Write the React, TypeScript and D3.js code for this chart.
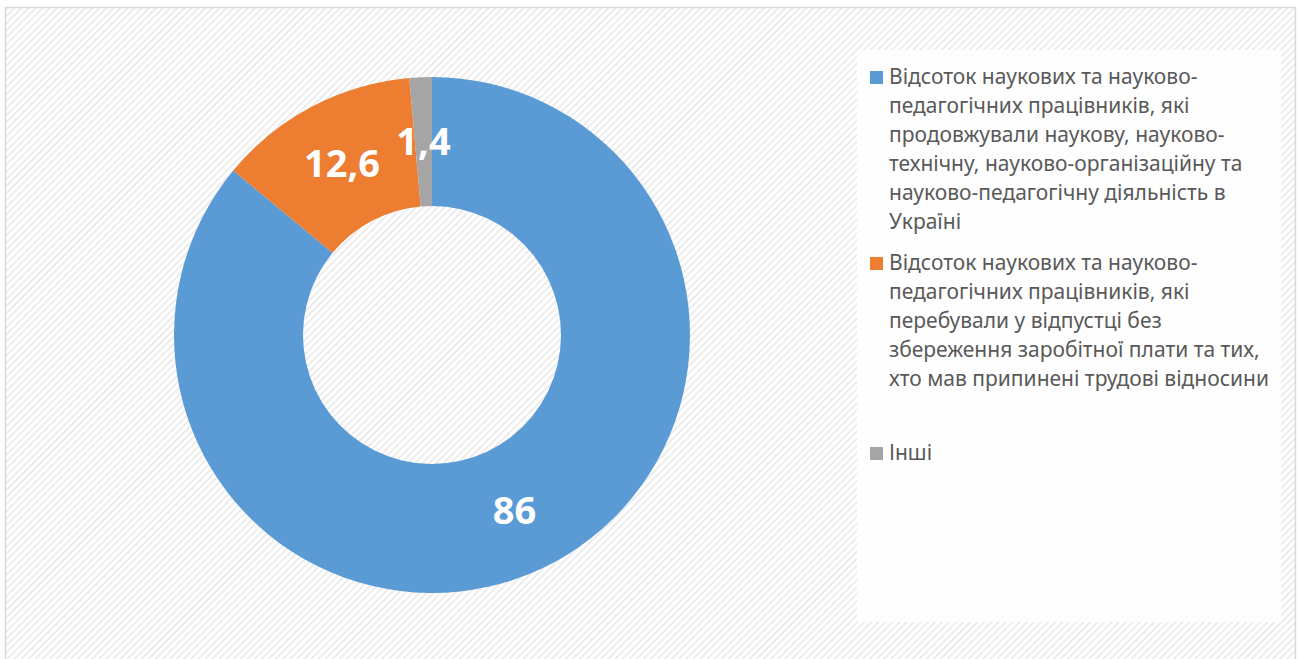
import { useEffect, useRef } from 'react';
import * as d3 from 'd3';

const categories = [
  'Відсоток наукових та науково-педагогічних працівників, які продовжували наукову, науково-технічну, науково-організаційну та науково-педагогічну діяльність в Україні',
  'Відсоток наукових та науково-педагогічних працівників, які перебували у відпустці без збереження заробітної плати та тих, хто мав припинені трудові відносини',
  'Інші',
];
const values = [86, 12.6, 1.4];
const valueLabels = ['86', '12,6', '1,4'];
const colors = ['#5b9bd5', '#ed7d31', '#a5a5a5'];
const legendLines = [
  [
    'Відсоток наукових та науково-',
    'педагогічних працівників, які',
    'продовжували наукову, науково-',
    'технічну, науково-організаційну та',
    'науково-педагогічну діяльність в',
    'Україні',
  ],
  [
    'Відсоток наукових та науково-',
    'педагогічних працівників, які',
    'перебували у відпустці без',
    'збереження заробітної плати та тих,',
    'хто мав припинені трудові відносини',
  ],
  ['Інші'],
];

export default function App() {
  const svgRef = useRef<SVGSVGElement>(null);

  useEffect(() => {
    if (!svgRef.current) return;
    const svg = d3.select(svgRef.current);
    svg.selectAll('*').remove();

    const width = 1300;
    const height = 659;
    const font = "'Noto Sans', 'Open Sans', sans-serif";

    // Hatched background
    const defs = svg.append('defs');
    const pat = defs
      .append('pattern')
      .attr('id', 'hatch')
      .attr('patternUnits', 'userSpaceOnUse')
      .attr('width', 5)
      .attr('height', 5)
      .attr('patternTransform', 'rotate(45)');
    pat.append('rect').attr('width', 5).attr('height', 5).attr('fill', '#ffffff');
    pat.append('rect').attr('width', 2).attr('height', 5).attr('fill', '#ececec');

    svg.append('rect').attr('width', width).attr('height', height).attr('fill', '#ffffff');
    svg
      .append('rect')
      .attr('x', 5.5)
      .attr('y', 7.5)
      .attr('width', 1290)
      .attr('height', 700)
      .attr('fill', 'url(#hatch)')
      .attr('stroke', '#d9d9d9')
      .attr('stroke-width', 1.5);

    // Legend panel
    svg
      .append('rect')
      .attr('x', 857)
      .attr('y', 50)
      .attr('width', 424)
      .attr('height', 572)
      .attr('fill', '#ffffff')
      .attr('opacity', 0.85);

    // Donut
    const cx = 432;
    const cy = 335;
    const outer = 258;
    const inner = 129;
    const pie = d3.pie<number>().sort(null).value((d) => d);
    const arcs = pie(values);
    const arc = d3.arc<d3.PieArcDatum<number>>().innerRadius(inner).outerRadius(outer);
    const labelArc = d3
      .arc<d3.PieArcDatum<number>>()
      .innerRadius((inner + outer) / 2)
      .outerRadius((inner + outer) / 2);

    const g = svg.append('g').attr('transform', `translate(${cx},${cy})`);
    g.selectAll('path')
      .data(arcs)
      .enter()
      .append('path')
      .attr('d', arc)
      .attr('fill', (_, i) => colors[i]);

    g.selectAll('text.val')
      .data(arcs)
      .enter()
      .append('text')
      .attr('class', 'val')
      .attr('transform', (d) => {
        const [x, y] = labelArc.centroid(d);
        return `translate(${x},${y})`;
      })
      .attr('text-anchor', 'middle')
      .attr('dy', '0.36em')
      .attr('fill', '#ffffff')
      .attr('font-family', font)
      .attr('font-weight', 'bold')
      .attr('font-size', 38)
      .text((_, i) => valueLabels[i]);

    // Legend
    const itemTops = [77, 263, 453];
    const lineH = 29;
    const leg = svg.append('g').attr('font-family', font).attr('font-size', 21).attr('fill', '#595959');
    categories.forEach((c, i) => {
      const item = leg.append('g').attr('aria-label', c);
      item
        .append('rect')
        .attr('x', 870)
        .attr('y', itemTops[i] - 6)
        .attr('width', 13)
        .attr('height', 13)
        .attr('fill', colors[i]);
      legendLines[i].forEach((line, j) => {
        item
          .append('text')
          .attr('x', 889)
          .attr('y', itemTops[i] + j * lineH)
          .attr('dy', '0.35em')
          .text(line);
      });
    });
  }, []);

  return (
    <svg
      ref={svgRef}
      width={1300}
      height={659}
      style={{ position: 'absolute', left: 0, top: 0, display: 'block' }}
    />
  );
}
